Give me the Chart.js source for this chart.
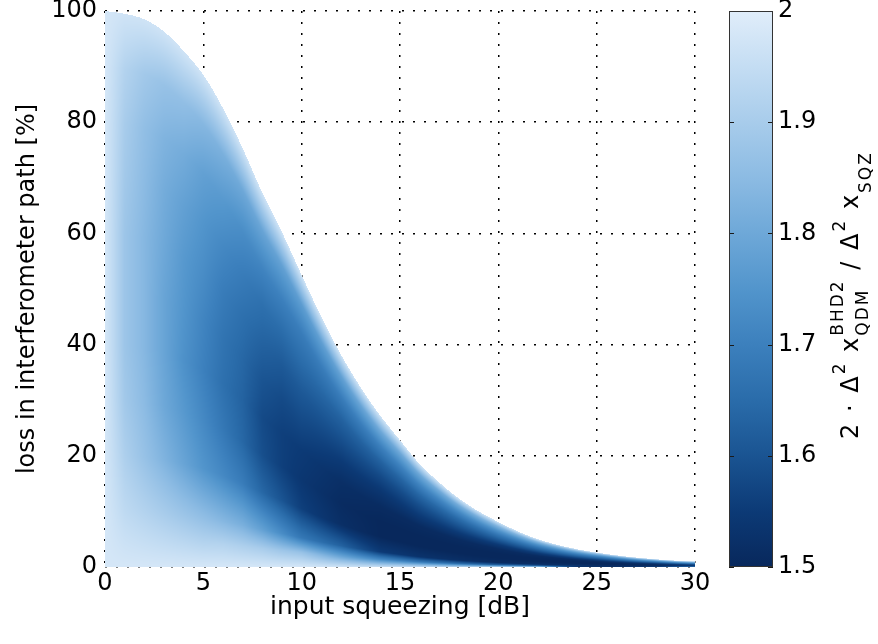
<!DOCTYPE html>
<html>
<head>
<meta charset="utf-8">
<script src="https://cdn.jsdelivr.net/npm/chart.js@4.4.1/dist/chart.umd.min.js"></script>
<style>
  html, body { margin: 0; padding: 0; background: #fff; }
  #wrap { position: relative; width: 878px; height: 644px; }
  #wrap canvas { position: absolute; left: 0; top: 0; }
</style>
</head>
<body>
<div id="wrap">
  <canvas id="main" width="878" height="644"></canvas>
  <canvas id="cbar" width="878" height="644"></canvas>
</div>
<script>
'use strict';

var xTicks = [0, 5, 10, 15, 20, 25, 30];
var yTicks = [0, 20, 40, 60, 80, 100];
var cbarTicks = [1.5, 1.6, 1.7, 1.8, 1.9, 2];

// loss [%] where the coloured region ends (white above), one value per dB
var edgeSqz = [0,1,2,3,4,5,6,7,8,9,10,11,12,13,14,15,16,17,18,19,20,21,22,23,24,25,26,27,28,29,30];
var edgeLoss = [100,99.5,98.5,96.3,92.8,88.5,82.5,75.3,67.3,60.2,52.5,45,38.2,32.3,27.2,22.8,
                18.5,15.2,12.3,10.0,8.1,6.4,5.0,4.0,3.2,2.6,2.1,1.7,1.4,1.15,1.0];

// ratio: one row per squeezing column,
// values at lossFrac = fraction of the edge loss for that column
var sqzCols = [0,1,2,3,4,5,6,7,8,9,10,12,14,16,18,20,22,24,26,28,30];
var lossFrac = [0, 0.05, 0.1, 0.2, 0.3, 0.4, 0.5, 0.6, 0.7, 0.8, 0.9, 1];
var ratio = [
  [1.98,1.98,1.98,1.98,1.98,1.98,1.98,1.98,1.98,1.98,1.98,1.98],
  [1.98,1.96,1.94,1.91,1.89,1.88,1.88,1.88,1.89,1.90,1.92,1.97],
  [1.98,1.95,1.92,1.87,1.85,1.84,1.84,1.84,1.85,1.86,1.89,1.97],
  [1.98,1.94,1.90,1.83,1.80,1.79,1.79,1.80,1.81,1.83,1.87,1.97],
  [1.98,1.93,1.88,1.79,1.76,1.74,1.75,1.76,1.78,1.81,1.86,1.97],
  [1.98,1.92,1.86,1.75,1.72,1.70,1.71,1.73,1.75,1.78,1.84,1.97],
  [1.98,1.92,1.84,1.72,1.68,1.66,1.67,1.69,1.72,1.76,1.82,1.97],
  [1.98,1.91,1.82,1.69,1.64,1.63,1.64,1.66,1.69,1.73,1.80,1.97],
  [1.98,1.90,1.78,1.64,1.59,1.58,1.60,1.63,1.66,1.71,1.79,1.97],
  [1.98,1.88,1.73,1.60,1.56,1.56,1.58,1.61,1.65,1.70,1.78,1.97],
  [1.98,1.87,1.68,1.56,1.54,1.55,1.58,1.61,1.65,1.69,1.77,1.97],
  [1.97,1.79,1.63,1.52,1.51,1.52,1.55,1.59,1.63,1.69,1.78,1.97],
  [1.96,1.72,1.55,1.50,1.50,1.51,1.54,1.58,1.63,1.70,1.80,1.97],
  [1.95,1.68,1.53,1.50,1.50,1.51,1.55,1.59,1.64,1.71,1.80,1.97],
  [1.93,1.65,1.52,1.50,1.50,1.51,1.55,1.60,1.65,1.72,1.81,1.97],
  [1.92,1.62,1.51,1.50,1.50,1.51,1.55,1.61,1.67,1.74,1.83,1.97],
  [1.90,1.62,1.52,1.50,1.50,1.51,1.55,1.61,1.67,1.74,1.83,1.97],
  [1.50,1.55,1.52,1.50,1.50,1.51,1.56,1.62,1.68,1.75,1.84,1.97],
  [1.50,1.52,1.51,1.50,1.50,1.52,1.57,1.63,1.69,1.76,1.85,1.97],
  [1.60,1.55,1.52,1.51,1.51,1.53,1.58,1.64,1.70,1.77,1.86,1.97],
  [1.90,1.70,1.60,1.55,1.55,1.57,1.62,1.68,1.74,1.80,1.88,1.97]
];

// colour map (dark blue at 1.5 -> pale blue at 2)
var cmapVals = [1.5, 1.55, 1.6, 1.65, 1.7, 1.75, 1.8, 1.85, 1.9, 1.95, 2];
var cmapRGB = [[8,40,92],[12,58,118],[26,84,146],[42,108,170],[60,128,189],[82,149,204],
               [110,168,216],[140,187,227],[168,204,235],[196,221,243],[224,237,250]];

var FONT = '"DejaVu Sans", Verdana, sans-serif';
Chart.defaults.font.family = FONT;
Chart.defaults.color = '#000';

function findSeg(arr, v) {
  if (v <= arr[0]) return [0, 0];
  for (var i = 0; i < arr.length - 1; i++) {
    if (v <= arr[i + 1]) return [i, (v - arr[i]) / (arr[i + 1] - arr[i])];
  }
  return [arr.length - 2, 1];
}

function colourOf(v) {
  var s = findSeg(cmapVals, v), a = cmapRGB[s[0]], b = cmapRGB[s[0] + 1];
  return [a[0] + (b[0] - a[0]) * s[1], a[1] + (b[1] - a[1]) * s[1], a[2] + (b[2] - a[2]) * s[1]];
}

// smooth (monotone cubic) drawing of the edge curve through the read points
var edgeSlope = (function () {
  var n = edgeSqz.length, d = [], m = [];
  for (var i = 0; i < n - 1; i++) d.push((edgeLoss[i + 1] - edgeLoss[i]) / (edgeSqz[i + 1] - edgeSqz[i]));
  m[0] = d[0]; m[n - 1] = d[n - 2];
  for (var k = 1; k < n - 1; k++) m[k] = (d[k - 1] * d[k] <= 0) ? 0 : (d[k - 1] + d[k]) / 2;
  return m;
})();

function edgeAt(sq) {
  var s = findSeg(edgeSqz, sq), i = s[0], t = s[1];
  var h = edgeSqz[i + 1] - edgeSqz[i];
  var t2 = t * t, t3 = t2 * t;
  return (2 * t3 - 3 * t2 + 1) * edgeLoss[i] + (t3 - 2 * t2 + t) * h * edgeSlope[i] +
         (-2 * t3 + 3 * t2) * edgeLoss[i + 1] + (t3 - t2) * h * edgeSlope[i + 1];
}

function noPad(s) {
  s.paddingTop = 0; s.paddingBottom = 0; s.paddingLeft = 0; s.paddingRight = 0;
}

var heatmap = {
  id: 'heatmap',
  beforeDatasetsDraw: function (chart) {
    var a = chart.chartArea, xs = chart.scales.x, ys = chart.scales.y;
    var w = Math.round(a.right - a.left), h = Math.round(a.bottom - a.top);
    var off = document.createElement('canvas');
    off.width = w; off.height = h;
    var octx = off.getContext('2d');
    var img = octx.createImageData(w, h);
    for (var i = 0; i < w; i++) {
      var sq = xs.getValueForPixel(a.left + i + 0.5);
      var edge = edgeAt(sq);
      var c = findSeg(sqzCols, sq);
      var colA = ratio[c[0]], colB = ratio[c[0] + 1];
      for (var j = 0; j < h; j++) {
        var loss = ys.getValueForPixel(a.top + j + 0.5);
        if (loss > edge) continue;
        var r = findSeg(lossFrac, Math.max(0, loss / edge));
        var va = colA[r[0]] + (colA[r[0] + 1] - colA[r[0]]) * r[1];
        var vb = colB[r[0]] + (colB[r[0] + 1] - colB[r[0]]) * r[1];
        var rgb = colourOf(va + (vb - va) * c[1]);
        var k = (j * w + i) * 4;
        img.data[k] = rgb[0]; img.data[k + 1] = rgb[1]; img.data[k + 2] = rgb[2]; img.data[k + 3] = 255;
      }
    }
    octx.putImageData(img, 0, 0);
    chart.ctx.drawImage(off, a.left, a.top);
  }
};

new Chart(document.getElementById('main'), {
  type: 'scatter',
  data: { datasets: [] },
  options: {
    responsive: false,
    animation: false,
    events: [],
    plugins: { legend: { display: false }, tooltip: { enabled: false } },
    layout: { padding: { left: 0, right: 183, top: 11, bottom: 0 } },
    scales: {
      x: {
        type: 'linear', min: 0, max: 30,
        afterBuildTicks: function (s) { s.ticks = xTicks.map(function (v) { return { value: v }; }); },
        afterFit: function (s) { s.height = 77; noPad(s); },
        grid: { color: '#000', lineWidth: 1.5, drawTicks: false },
        border: { display: false, dash: [2, 9] },
        ticks: { padding: 2, font: { size: 24 }, maxRotation: 0 },
        title: { display: true, text: 'input squeezing [dB]', font: { size: 25 }, padding: { top: 0, bottom: 22 } }
      },
      y: {
        type: 'linear', min: 0, max: 100,
        afterBuildTicks: function (s) { s.ticks = yTicks.map(function (v) { return { value: v }; }); },
        afterFit: function (s) { s.width = 105; noPad(s); },
        grid: { color: '#000', lineWidth: 1.5, drawTicks: false },
        border: { display: false, dash: [2, 9] },
        ticks: { padding: 8, font: { size: 24 } },
        title: { display: true, text: 'loss in interferometer path [%]', font: { size: 24 }, padding: { top: 13, bottom: 0 } }
      }
    }
  },
  plugins: [heatmap]
});

function drawCbarLabel(ctx) {
  var big = '24px ' + FONT, small = '17px ' + FONT;
  // [text, font, baseline shift, stacked text, stacked shift]
  var parts = [
    ['2 \u00b7 \u0394', big, 0], ['2', small, -13], [' x', big, 0],
    ['BHD2', small, -15, 'QDM', 10], [' / \u0394', big, 0], ['2', small, -13],
    [' x', big, 0], ['SQZ', small, 13]
  ];
  ctx.save();
  ctx.letterSpacing = '2px';
  var total = 0, widths = [];
  parts.forEach(function (p) {
    ctx.font = p[1];
    var wdt = ctx.measureText(p[0]).width;
    if (p[3]) wdt = Math.max(wdt, ctx.measureText(p[3]).width);
    widths.push(wdt); total += wdt;
  });
  ctx.translate(858, 295);
  ctx.rotate(-Math.PI / 2);
  ctx.fillStyle = '#000';
  ctx.textBaseline = 'alphabetic';
  ctx.textAlign = 'left';
  var x = -total / 2;
  parts.forEach(function (p, i) {
    ctx.font = p[1];
    ctx.fillText(p[0], x, p[2]);
    if (p[3]) ctx.fillText(p[3], x, p[4]);
    x += widths[i];
  });
  ctx.restore();
}

var colorbar = {
  id: 'colorbar',
  beforeDatasetsDraw: function (chart) {
    var ctx = chart.ctx, a = chart.chartArea, ys = chart.scales.y;
    var g = ctx.createLinearGradient(0, ys.getPixelForValue(1.5), 0, ys.getPixelForValue(2));
    cmapVals.forEach(function (v, i) {
      var c = cmapRGB[i];
      g.addColorStop((v - 1.5) / 0.5, 'rgb(' + c[0] + ',' + c[1] + ',' + c[2] + ')');
    });
    ctx.save();
    ctx.fillStyle = g;
    ctx.fillRect(a.left, a.top, a.right - a.left, a.bottom - a.top);
    ctx.strokeStyle = '#1a1a1a';
    ctx.lineWidth = 1;
    cbarTicks.forEach(function (v) {
      var y = Math.round(ys.getPixelForValue(v)) + 0.5;
      ctx.beginPath();
      ctx.moveTo(a.left, y); ctx.lineTo(a.left + 5, y);
      ctx.moveTo(a.right - 5, y); ctx.lineTo(a.right, y);
      ctx.stroke();
    });
    ctx.strokeStyle = '#333';
    ctx.strokeRect(a.left + 0.5, a.top + 0.5, a.right - a.left - 1, a.bottom - a.top - 1);
    ctx.restore();
  },
  afterDraw: function (chart) { drawCbarLabel(chart.ctx); }
};

new Chart(document.getElementById('cbar'), {
  type: 'scatter',
  data: { datasets: [] },
  options: {
    responsive: false,
    animation: false,
    events: [],
    plugins: { legend: { display: false }, tooltip: { enabled: false } },
    layout: { padding: { left: 729, right: 0, top: 11, bottom: 77 } },
    scales: {
      x: { display: false, min: 0, max: 1 },
      y: {
        position: 'right', min: 1.5, max: 2,
        afterBuildTicks: function (s) { s.ticks = cbarTicks.map(function (v) { return { value: v }; }); },
        afterFit: function (s) { s.width = 105; noPad(s); },
        grid: { display: false, drawTicks: false },
        border: { display: false },
        ticks: { padding: 5, font: { size: 24 }, callback: function (v) { return String(Math.round(v * 10) / 10); } }
      }
    }
  },
  plugins: [colorbar]
});
</script>
</body>
</html>
